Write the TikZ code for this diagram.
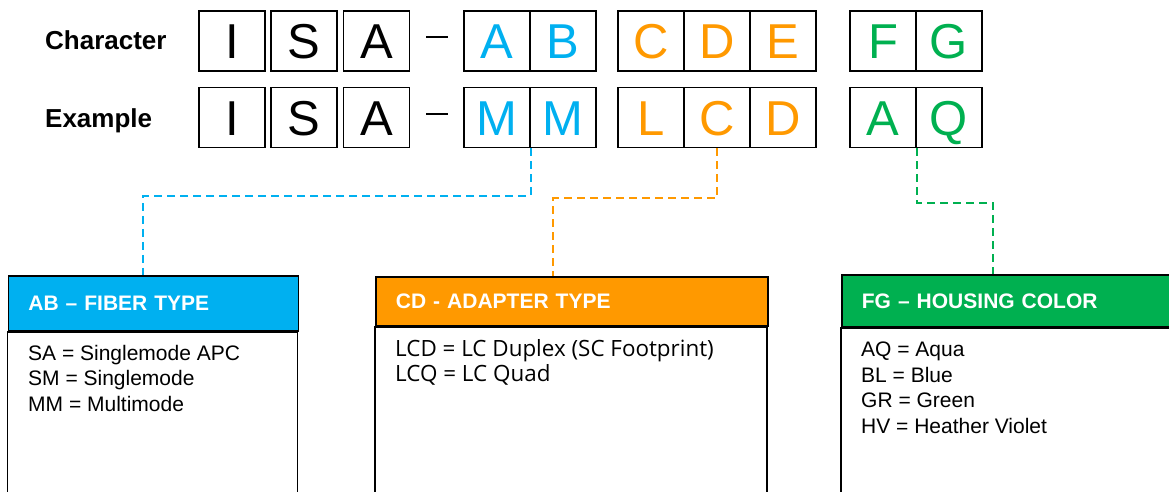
\documentclass[tikz,border=0pt]{standalone}
\usepackage{fontspec}
\setmainfont{Liberation Sans}
\newfontfamily\uifont{Open Sans}
\usepackage{tikz}
\usepackage{xcolor}

\definecolor{fiberblue}{HTML}{00B0F0}
\definecolor{adapterorange}{HTML}{FF9900}
\definecolor{housinggreen}{HTML}{00B050}

\tikzset{
  cell/.style={draw, line width=1.8pt, minimum width=66pt, minimum height=60pt,
    inner sep=0pt, font=\fontsize{49}{49}\selectfont, text height=35pt, text depth=0pt},
  rowlabel/.style={anchor=west, inner sep=0pt, font=\fontsize{26}{26}\selectfont\bfseries,
    text height=18.7pt, text depth=0pt},
  head/.style={draw, line width=1.8pt, anchor=north west, inner xsep=20pt, inner ysep=0pt,
    text=white, align=left, font=\fontsize{21}{21}\selectfont\bfseries},
  keytext/.style={anchor=north west, inner sep=0pt, align=left,
    font=\fontsize{21}{25.5}\selectfont},
  link/.style={line width=1.8pt, dash pattern=on 8pt off 5pt},
}

\begin{document}
\begin{tikzpicture}[x=1pt, y=-1pt]
  \useasboundingbox (0,0) rectangle (1169,491);
  \clip (0,0) rectangle (1169,491);

  % row labels
  \node[rowlabel] (charlabel) at (45,40.5) {Character};
  \node[rowlabel] (exlabel) at (45,118) {Example};

  % character row
  \node[cell] (ch1) at (232,40.8) {I};
  \node[cell] (ch2) at (304,40.8) {S};
  \node[cell] (ch3) at (376.5,40.8) {A};
  \node[cell, text=fiberblue] (ch4) at (497,40.8) {A};
  \node[cell, text=fiberblue] (ch5) at (563,40.8) {B};
  \node[cell, text=adapterorange] (ch6) at (650.7,40.8) {C};
  \node[cell, text=adapterorange] (ch7) at (716.7,40.8) {D};
  \node[cell, text=adapterorange] (ch8) at (782.7,40.8) {E};
  \node[cell, text=housinggreen] (ch9) at (883,40.8) {F};
  \node[cell, text=housinggreen] (ch10) at (949,40.8) {G};

  % example row
  \node[cell] (ex1) at (232,117.5) {I};
  \node[cell] (ex2) at (304,117.5) {S};
  \node[cell] (ex3) at (376.5,117.5) {A};
  \node[cell, text=fiberblue] (ex4) at (497,117.5) {M};
  \node[cell, text=fiberblue] (ex5) at (563,117.5) {M};
  \node[cell, text=adapterorange] (ex6) at (650.7,117.5) {L};
  \node[cell, text=adapterorange] (ex7) at (716.7,117.5) {C};
  \node[cell, text=adapterorange] (ex8) at (782.7,117.5) {D};
  \node[cell, text=housinggreen] (ex9) at (883,117.5) {A};
  \node[cell, text=housinggreen] (ex10) at (949,117.5) {Q};

  \draw[line width=1.5pt] (426,37) -- (448,37);
  \draw[line width=1.5pt] (426,114) -- (448,114);

  % key panels
  \node[head, fill=fiberblue, text width=250pt, minimum height=55pt] (abhead) at (7.5,275) {AB -- FIBER TYPE};
  \draw[line width=1.8pt] (abhead.south west) rectangle ++(290,220);
  \node[keytext] (abtext) at (28,345) {SA = Singlemode APC\\SM = Singlemode\\MM = Multimode};

  \node[head, fill=adapterorange, text width=352pt, minimum height=49pt] (cdhead) at (375,276) {CD - ADAPTER TYPE};
  \draw[line width=1.8pt] (cdhead.south west) rectangle ++(392,220);
  \node[keytext, font=\uifont\fontsize{22.4}{25}\selectfont] (cdtext) at (395,339.5) {LCD = LC Duplex (SC Footprint)\\LCQ = LC Quad};

  \node[head, fill=housinggreen, text width=300pt, minimum height=52pt] (fghead) at (841,274) {FG -- HOUSING COLOR};
  \draw[line width=1.8pt] (fghead.south west) rectangle ++(340,220);
  \node[keytext] (fgtext) at (861,342) {AQ = Aqua\\BL = Blue\\GR = Green\\HV = Heather Violet};

  % connectors
  \coordinate (abbend) at (143.3,195.7);
  \coordinate (cdbend) at (553.3,198.3);
  \coordinate (fgbend) at (993,203);
  \draw[link, fiberblue] (ex4.south east) |- (abbend) -- (abbend |- abhead.north);
  \draw[link, adapterorange] (ex7.south) |- (cdbend) -- (cdbend |- cdhead.north);
  \draw[link, housinggreen] (ex9.south east) |- (fgbend) -- (fgbend |- fghead.north);
\end{tikzpicture}
\end{document}
